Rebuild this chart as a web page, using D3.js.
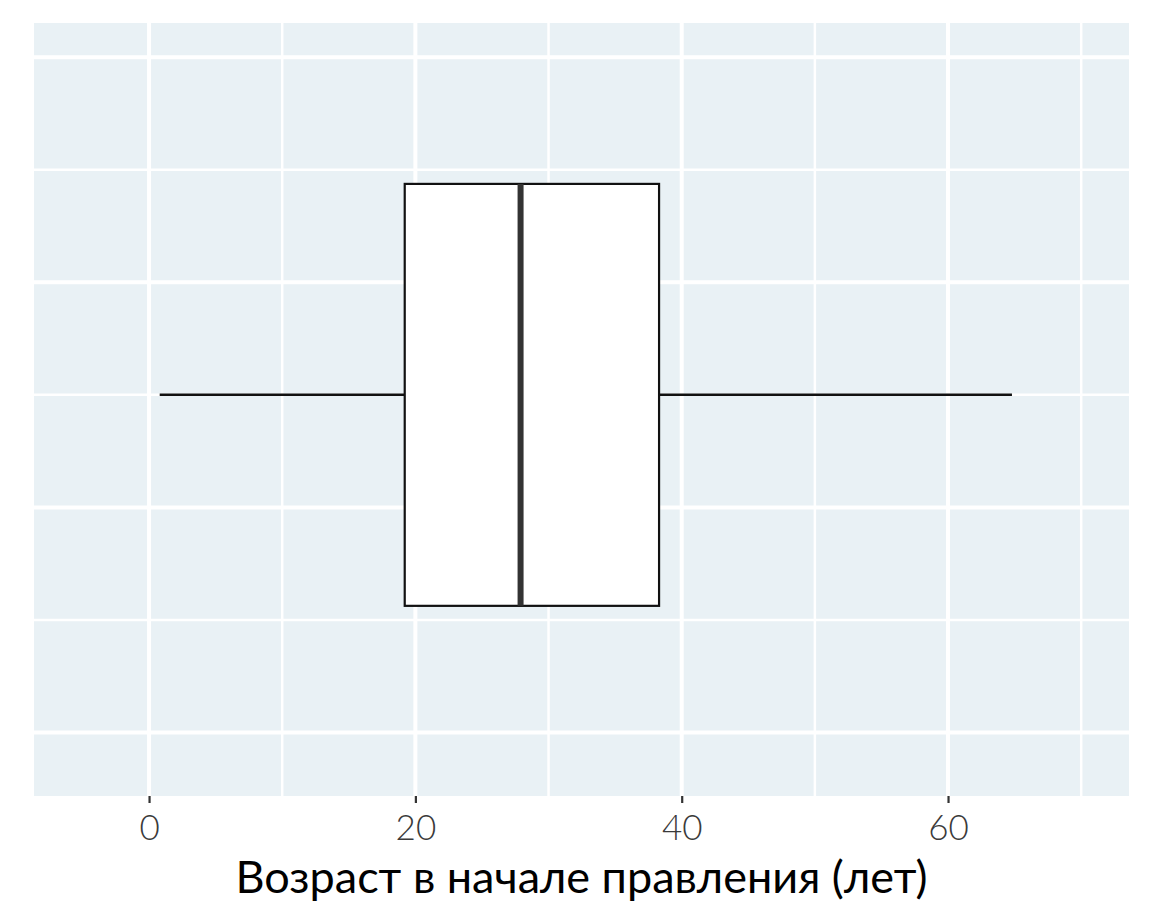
<!DOCTYPE html>
<html>
<head>
<meta charset="utf-8">
<script src="https://cdn.jsdelivr.net/npm/d3@7"></script>
<style>
  body { margin: 0; background: #fff; }
  svg { display: block; }
</style>
</head>
<body>
<svg id="chart" width="1152" height="922"></svg>
<script>
// box statistics (age at start of reign, years)
const statNames = ["min", "q1", "median", "q3", "max"];
const statValues = [0.8, 19.2, 27.9, 38.3, 64.8];
const xMajor = [0, 20, 40, 60];
const xMinor = [10, 30, 50, 70];
const yMajor = [-0.6, -0.2, 0.2, 0.6];
const yMinor = [-0.4, 0, 0.4];
const xTitle = "Возраст в начале правления (лет)";

const svg = d3.select("#chart");
const panel = { left: 34, right: 1129, top: 23, bottom: 796 };

const x = d3.scaleLinear().domain([-8.64, 73.59]).range([panel.left, panel.right]);
const y = d3.scaleLinear().domain([-0.713, 0.661]).range([panel.bottom, panel.top]);

const stat = {};
statNames.forEach((n, i) => stat[n] = statValues[i]);

// panel background
svg.append("rect")
    .attr("x", panel.left).attr("y", panel.top)
    .attr("width", panel.right - panel.left)
    .attr("height", panel.bottom - panel.top)
    .attr("fill", "#e9f1f5");

const grid = svg.append("g");
// minor grid first, then major
grid.selectAll(".xminor").data(xMinor).enter().append("line")
    .attr("x1", d => x(d)).attr("x2", d => x(d))
    .attr("y1", panel.top).attr("y2", panel.bottom)
    .attr("stroke", "#fff").attr("stroke-width", 2.5);
grid.selectAll(".yminor").data(yMinor).enter().append("line")
    .attr("y1", d => y(d)).attr("y2", d => y(d))
    .attr("x1", panel.left).attr("x2", panel.right)
    .attr("stroke", "#fff").attr("stroke-width", 2.5);
grid.selectAll(".xmajor").data(xMajor).enter().append("line")
    .attr("x1", d => x(d)).attr("x2", d => x(d))
    .attr("y1", panel.top).attr("y2", panel.bottom)
    .attr("stroke", "#fff").attr("stroke-width", 4);
grid.selectAll(".ymajor").data(yMajor).enter().append("line")
    .attr("y1", d => y(d)).attr("y2", d => y(d))
    .attr("x1", panel.left).attr("x2", panel.right)
    .attr("stroke", "#fff").attr("stroke-width", 4);

// boxplot
const box = svg.append("g");
box.append("line")
    .attr("x1", x(stat.min)).attr("x2", x(stat.q1))
    .attr("y1", y(0)).attr("y2", y(0))
    .attr("stroke", "#111").attr("stroke-width", 2.5);
box.append("line")
    .attr("x1", x(stat.q3)).attr("x2", x(stat.max))
    .attr("y1", y(0)).attr("y2", y(0))
    .attr("stroke", "#111").attr("stroke-width", 2.5);
box.append("rect")
    .attr("x", x(stat.q1)).attr("y", y(0.375))
    .attr("width", x(stat.q3) - x(stat.q1))
    .attr("height", y(-0.375) - y(0.375))
    .attr("fill", "#fff").attr("stroke", "#111").attr("stroke-width", 2.2);
box.append("line")
    .attr("x1", x(stat.median)).attr("x2", x(stat.median))
    .attr("y1", y(0.375)).attr("y2", y(-0.375))
    .attr("stroke", "#333").attr("stroke-width", 6);

// x axis
const xAxis = svg.append("g")
    .attr("transform", `translate(0,${panel.bottom})`)
    .call(d3.axisBottom(x).tickValues(xMajor).tickSize(7).tickPadding(12).tickFormat(d3.format("d")));
xAxis.select(".domain").remove();
xAxis.selectAll(".tick line").attr("stroke", "#333").attr("stroke-width", 2.2);
xAxis.selectAll(".tick text")
    .attr("fill", "#3a3a3a")
    .attr("font-family", "Lato, 'Open Sans', sans-serif")
    .attr("font-weight", 300)
    .attr("font-size", 35);

svg.append("text")
    .attr("x", (panel.left + panel.right) / 2)
    .attr("y", 893)
    .attr("text-anchor", "middle")
    .attr("font-family", "Lato, 'Open Sans', sans-serif")
    .attr("font-size", 45)
    .attr("fill", "#000")
    .text(xTitle);
</script>
</body>
</html>
